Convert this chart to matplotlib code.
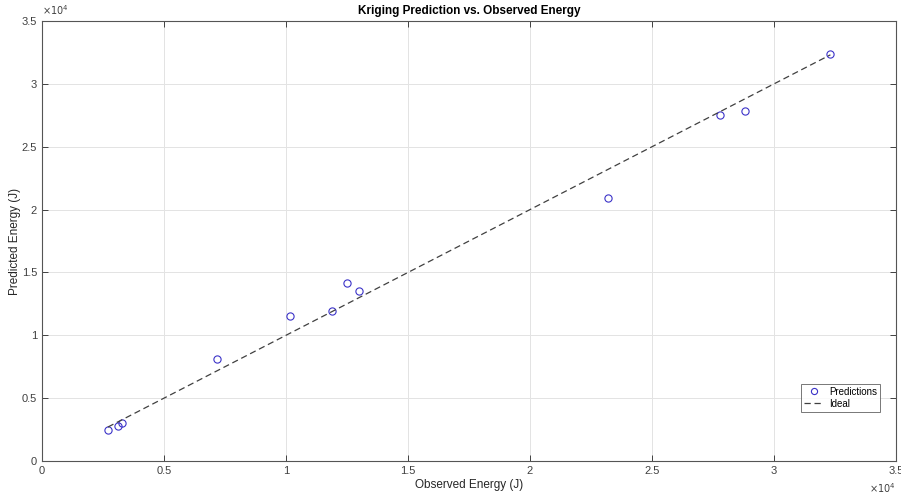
import matplotlib
matplotlib.use("Agg")
import matplotlib.pyplot as plt
from matplotlib.ticker import FuncFormatter, MultipleLocator
import numpy as np

# observed vs kriging predicted energy (J)
observed = [2700, 3110, 3280, 7170, 10160, 11890, 12490, 12990, 23200, 27800, 28810, 32310]
predicted = [2470, 2780, 3020, 8110, 11530, 11960, 14160, 13500, 20900, 27530, 27870, 32400]

plt.rcParams['font.family'] = ['Liberation Sans', 'DejaVu Sans']

fig = plt.figure(figsize=(9.01, 4.93), dpi=100)
ax = fig.add_axes([0.0466, 0.0649, 0.9479, 0.8925])

ax.plot(observed, predicted, 'o', mfc='none', mec='#3b32c8', ms=5.2, mew=0.8,
        label='Predictions')
ideal = [min(observed), max(observed)]
ax.plot(ideal, ideal, '--', color='#404040', lw=0.9, dashes=(5, 3), label='Ideal')

ax.set_xlim(0, 35000)
ax.set_ylim(0, 35000)
ax.xaxis.set_major_locator(MultipleLocator(5000))
ax.yaxis.set_major_locator(MultipleLocator(5000))
fmt = FuncFormatter(lambda v, p: '%g' % (v / 1e4))
ax.xaxis.set_major_formatter(fmt)
ax.yaxis.set_major_formatter(fmt)

ax.grid(True, color='#e3e3e3', lw=0.7)
ax.set_axisbelow(True)
ax.tick_params(direction='in', length=4, width=0.7, colors='#404040',
               labelsize=8, top=True, right=True, labelcolor='#404040')
for s in ax.spines.values():
    s.set_color('#555555')
    s.set_linewidth(0.8)

ax.set_title('Kriging Prediction vs. Observed Energy', fontsize=8.5,
             fontweight='bold', pad=5)
ax.set_xlabel('Observed Energy (J)', fontsize=8.5, color='#262626', labelpad=2)
ax.set_ylabel('Predicted Energy (J)', fontsize=8.5, color='#262626')
ax.yaxis.set_label_coords(-0.025, 0.5)

ax.text(0.0, 1.008, r'$\times10^4$', transform=ax.transAxes, fontsize=7,
        color='#404040', ha='left', va='bottom')
ax.text(1.0, -0.045, r'$\times10^4$', transform=ax.transAxes, fontsize=7,
        color='#404040', ha='right', va='top')

leg = ax.legend(loc='lower right', bbox_to_anchor=(0.987, 0.101), fontsize=7,
                frameon=True, fancybox=False, edgecolor='#555555',
                handlelength=2.0, handletextpad=0.6, borderpad=0.3,
                labelspacing=0.2, markerscale=0.85)
leg.get_frame().set_linewidth(0.7)

fig.savefig('out.png', dpi=100)
